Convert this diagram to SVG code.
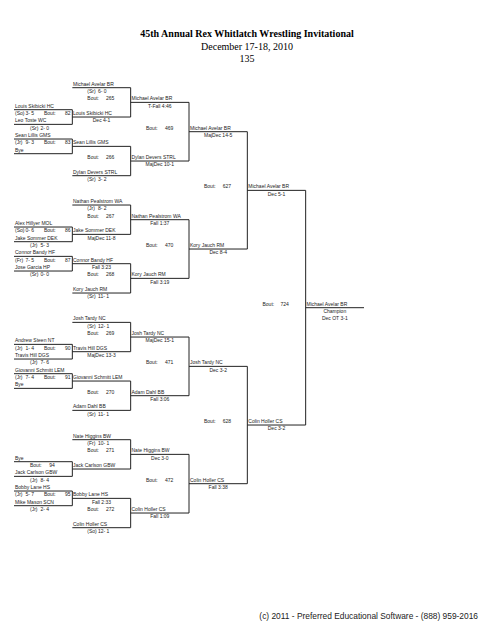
<svg xmlns="http://www.w3.org/2000/svg" xmlns:xlink="http://www.w3.org/1999/xlink" width="495" height="640" viewBox="0 0 495 640">
<style>
.bg{fill:#fff}
.ln{fill:none;stroke:#222;stroke-width:1}
.t{font-family:"Liberation Sans",Arial,sans-serif;font-size:5px;fill:#222}
.c{text-anchor:middle}
.ttl{font-family:"Liberation Serif","Times New Roman",serif;font-size:10px;fill:#000;text-anchor:middle}
.b{font-weight:bold}
.ft{font-family:"Liberation Sans",Arial,sans-serif;font-size:8.4px;fill:#222;text-anchor:end}
</style>
<defs>
<path id="quarter" class="ln" d="M14 22H72.33V36.67H14M14 51.33H72.33V66H14M72.33 0H130.67V29.33H72.33M72.33 58.67H130.67V88H72.33M130.67 14.67H189V73.33H130.67M189 44H247.33"/>
</defs>
<rect class="bg" x="0" y="0" width="495" height="640"/>
<g id="title">
<text class="ttl b" x="247" y="36.5">45th Annual Rex Whitlatch Wrestling Invitational</text>
<text class="ttl" x="247" y="49.5">December 17-18, 2010</text>
<text class="ttl" x="247" y="61.5">135</text>
</g>
<g id="connectors">
<use xlink:href="#quarter" transform="translate(0,87.7)"/>
<use xlink:href="#quarter" transform="translate(0,205.03)"/>
<use xlink:href="#quarter" transform="translate(0,322.37)"/>
<use xlink:href="#quarter" transform="translate(0,439.7)"/>
<path class="ln" d="M247.33 131.7V249.03M247.33 190.37H305.67M247.33 366.37V483.7M247.33 425.03H305.67M305.67 190.37V425.03M305.67 307.7H364"/>
</g>
<g id="quarter1" class="t" transform="translate(0,87.7)">
<text x="73" y="-2">Michael Avelar BR</text>
<text x="87.3" y="5.33">(Sr)</text><text x="98" y="5.33">6- 0</text>
<text x="87.3" y="12.67">Bout:</text><text x="106" y="12.67">265</text>
<text x="131.5" y="12.67">Michael Avelar BR</text>
<text class="c" x="159.8" y="20">T-Fall 4:46</text>
<text x="15" y="20">Louis Skibicki HC</text>
<text x="15" y="27.33">(So)</text><text x="25.5" y="27.33">3- 5</text><text x="44" y="27.33">Bout:</text><text x="65" y="27.33">82</text>
<text x="73" y="27.33">Louis Skibicki HC</text>
<text x="15" y="34.67">Leo Toste WC</text>
<text class="c" x="101.5" y="34.67">Dec 4-1</text>
<text x="30" y="42">(Sr)</text><text x="40.5" y="42">2- 0</text>
<text x="146" y="42">Bout:</text><text x="165" y="42">469</text>
<text x="190" y="42">Michael Avelar BR</text>
<text class="c" x="218.2" y="49.33">MajDec 14-5</text>
<text x="15" y="49.33">Sean Lillis GMS</text>
<text x="15" y="56.67">(Jr)</text><text x="25.5" y="56.67">9- 3</text><text x="44" y="56.67">Bout:</text><text x="65" y="56.67">83</text>
<text x="73" y="56.67">Sean Lillis GMS</text>
<text x="15" y="64">Bye</text>
<text x="87.3" y="71.33">Bout:</text><text x="106" y="71.33">266</text>
<text x="131.5" y="71.33">Dylan Devers STRL</text>
<text class="c" x="159.8" y="78.67">MajDec 10-1</text>
<text x="73" y="86">Dylan Devers STRL</text>
<text x="87.3" y="93.33">(Sr)</text><text x="98" y="93.33">3- 2</text>
</g>
<g id="quarter2" class="t" transform="translate(0,205.03)">
<text x="73" y="-2">Nathan Pealstrom WA</text>
<text x="87.3" y="5.33">(Jr)</text><text x="98" y="5.33">8- 2</text>
<text x="87.3" y="12.67">Bout:</text><text x="106" y="12.67">267</text>
<text x="131.5" y="12.67">Nathan Pealstrom WA</text>
<text class="c" x="159.8" y="20">Fall 1:37</text>
<text x="15" y="20">Alex Hillyer MOL</text>
<text x="15" y="27.33">(So)</text><text x="25.5" y="27.33">0- 6</text><text x="44" y="27.33">Bout:</text><text x="65" y="27.33">86</text>
<text x="73" y="27.33">Jake Sommer DEK</text>
<text x="15" y="34.67">Jake Sommer DEK</text>
<text class="c" x="101.5" y="34.67">MajDec 11-8</text>
<text x="30" y="42">(Jr)</text><text x="40.5" y="42">5- 3</text>
<text x="146" y="42">Bout:</text><text x="165" y="42">470</text>
<text x="190" y="42">Kory Jauch RM</text>
<text class="c" x="218.2" y="49.33">Dec 8-4</text>
<text x="15" y="49.33">Connor Bandy HF</text>
<text x="15" y="56.67">(Fr)</text><text x="25.5" y="56.67">7- 5</text><text x="44" y="56.67">Bout:</text><text x="65" y="56.67">87</text>
<text x="73" y="56.67">Connor Bandy HF</text>
<text x="15" y="64">Jose Garcia HP</text>
<text class="c" x="101.5" y="64">Fall 3:23</text>
<text x="30" y="71.33">(Sr)</text><text x="40.5" y="71.33">0- 0</text>
<text x="87.3" y="71.33">Bout:</text><text x="106" y="71.33">268</text>
<text x="131.5" y="71.33">Kory Jauch RM</text>
<text class="c" x="159.8" y="78.67">Fall 3:19</text>
<text x="73" y="86">Kory Jauch RM</text>
<text x="87.3" y="93.33">(Sr)</text><text x="98" y="93.33">11- 1</text>
</g>
<g id="quarter3" class="t" transform="translate(0,322.37)">
<text x="73" y="-2">Josh Tardy NC</text>
<text x="87.3" y="5.33">(Sr)</text><text x="98" y="5.33">12- 1</text>
<text x="87.3" y="12.67">Bout:</text><text x="106" y="12.67">269</text>
<text x="131.5" y="12.67">Josh Tardy NC</text>
<text class="c" x="159.8" y="20">MajDec 15-1</text>
<text x="15" y="20">Andrew Steen NT</text>
<text x="15" y="27.33">(Jr)</text><text x="25.5" y="27.33">1- 4</text><text x="44" y="27.33">Bout:</text><text x="65" y="27.33">90</text>
<text x="73" y="27.33">Travis Hill DGS</text>
<text x="15" y="34.67">Travis Hill DGS</text>
<text class="c" x="101.5" y="34.67">MajDec 13-3</text>
<text x="30" y="42">(Jr)</text><text x="40.5" y="42">7- 6</text>
<text x="146" y="42">Bout:</text><text x="165" y="42">471</text>
<text x="190" y="42">Josh Tardy NC</text>
<text class="c" x="218.2" y="49.33">Dec 3-2</text>
<text x="15" y="49.33">Giovanni Schmitt LEM</text>
<text x="15" y="56.67">(Jr)</text><text x="25.5" y="56.67">7- 4</text><text x="44" y="56.67">Bout:</text><text x="65" y="56.67">91</text>
<text x="73" y="56.67">Giovanni Schmitt LEM</text>
<text x="15" y="64">Bye</text>
<text x="87.3" y="71.33">Bout:</text><text x="106" y="71.33">270</text>
<text x="131.5" y="71.33">Adam Dahl BB</text>
<text class="c" x="159.8" y="78.67">Fall 3:06</text>
<text x="73" y="86">Adam Dahl BB</text>
<text x="87.3" y="93.33">(Sr)</text><text x="98" y="93.33">11- 1</text>
</g>
<g id="quarter4" class="t" transform="translate(0,439.7)">
<text x="73" y="-2">Nate Higgins BW</text>
<text x="87.3" y="5.33">(Fr)</text><text x="98" y="5.33">10- 1</text>
<text x="87.3" y="12.67">Bout:</text><text x="106" y="12.67">271</text>
<text x="131.5" y="12.67">Nate Higgins BW</text>
<text class="c" x="159.8" y="20">Dec 3-0</text>
<text x="15" y="20">Bye</text>
<text x="30" y="27.33">Bout:</text><text x="49.3" y="27.33">94</text>
<text x="73" y="27.33">Jack Carlson GBW</text>
<text x="15" y="34.67">Jack Carlson GBW</text>
<text x="30" y="42">(Jr)</text><text x="40.5" y="42">8- 4</text>
<text x="146" y="42">Bout:</text><text x="165" y="42">472</text>
<text x="190" y="42">Colin Holler CS</text>
<text class="c" x="218.2" y="49.33">Fall 3:38</text>
<text x="15" y="49.33">Bobby Lane HS</text>
<text x="15" y="56.67">(Jr)</text><text x="25.5" y="56.67">5- 7</text><text x="44" y="56.67">Bout:</text><text x="65" y="56.67">95</text>
<text x="73" y="56.67">Bobby Lane HS</text>
<text x="15" y="64">Mike Mason SCN</text>
<text class="c" x="101.5" y="64">Fall 2:33</text>
<text x="30" y="71.33">(Jr)</text><text x="40.5" y="71.33">2- 4</text>
<text x="87.3" y="71.33">Bout:</text><text x="106" y="71.33">272</text>
<text x="131.5" y="71.33">Colin Holler CS</text>
<text class="c" x="159.8" y="78.67">Fall 1:09</text>
<text x="73" y="86">Colin Holler CS</text>
<text x="87.3" y="93.33">(So)</text><text x="98" y="93.33">12- 1</text>
</g>
<g id="semis" class="t">
<text x="204" y="188.37">Bout:</text><text x="222.7" y="188.37">627</text>
<text x="248.3" y="188.37">Michael Avelar BR</text>
<text class="c" x="276.5" y="195.7">Dec 5-1</text>
<text x="204" y="423.03">Bout:</text><text x="222.7" y="423.03">628</text>
<text x="248.3" y="423.03">Colin Holler CS</text>
<text class="c" x="276.5" y="430.37">Dec 3-2</text>
</g>
<g id="final" class="t">
<text x="262.5" y="305.7">Bout:</text><text x="280.5" y="305.7">724</text>
<text x="306.5" y="305.7">Michael Avelar BR</text>
<text class="c" x="334.8" y="313.03">Champion</text>
<text class="c" x="334.8" y="320.37">Dec OT 3-1</text>
</g>
<g id="footer">
<text class="ft" x="478" y="618.5">(c) 2011 - Preferred Educational Software - (888) 959-2016</text>
</g>
</svg>
